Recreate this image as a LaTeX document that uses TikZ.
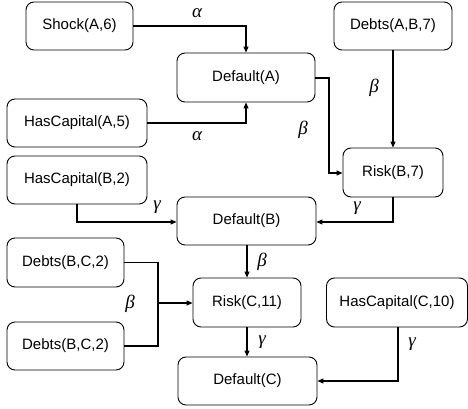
\documentclass[tikz,border=0pt]{standalone}
\usepackage{fontspec}
\setmainfont{Liberation Sans}
\newfontfamily\grk{Liberation Serif}
\usetikzlibrary{arrows.meta}
\begin{document}
\begin{tikzpicture}[x=1pt,y=-1pt,
  box/.style={draw,rounded corners=8pt,line width=0.9pt,font=\fontsize{15}{16}\selectfont},
  conn/.style={line width=1.1pt,-{Triangle[length=6pt,width=5pt]}},
  lbl/.style={font=\fontsize{19}{20}\selectfont\grk\itshape}]
\useasboundingbox (0,0) rectangle (468,409);
% boxes
\node[box,minimum width=107pt,minimum height=48pt] (shock) at (79.5,26) {Shock(A,6)};
\node[box,minimum width=138pt,minimum height=49pt] (defA) at (246,77.5) {Default(A)};
\node[box,minimum width=140pt,minimum height=48pt] (hcA) at (77,123) {HasCapital(A,5)};
\node[box,minimum width=140pt,minimum height=48pt] (hcB) at (77,180) {HasCapital(B,2)};
\node[box,minimum width=118pt,minimum height=48pt] (debAB) at (393,26) {Debts(A,B,7)};
\node[box,minimum width=100pt,minimum height=49pt] (riskB) at (393,172.5) {Risk(B,7)};
\node[box,minimum width=139pt,minimum height=48pt] (defB) at (246.5,221) {Default(B)};
\node[box,minimum width=117pt,minimum height=49pt] (debBC1) at (65.5,262.5) {Debts(B,C,2)};
\node[box,minimum width=117pt,minimum height=48pt] (debBC2) at (65.5,346) {Debts(B,C,2)};
\node[box,minimum width=108pt,minimum height=49pt] (riskC) at (247,302.5) {Risk(C,11)};
\node[box,minimum width=141pt,minimum height=49pt] (hcC) at (397,302.5) {HasCapital(C,10)};
\node[box,minimum width=139pt,minimum height=48pt] (defC) at (247.5,381) {Default(C)};
% coordinates
\coordinate (j1) at (246,26);
\coordinate (j2) at (246,123);
\coordinate (j3) at (329,78);
\coordinate (j4) at (329,173);
\coordinate (j5) at (77,222);
\coordinate (j6) at (393,222);
\coordinate (j7) at (158,262.5);
\coordinate (j8) at (158,346);
\coordinate (j9) at (158,303);
\coordinate (j10) at (398,381);
% connectors
\draw[conn] (shock.east) -- (j1) -- (defA.north);
\draw[conn] (hcA.east) -- (j2) -- (defA.south);
\draw[conn] (defA.east |- j3) -- (j3) -- (j4) -- (riskB.west |- j4);
\draw[conn] (debAB.south) -- (riskB.north);
\draw[conn] (hcB.south -| j5) -- (j5) -- (defB.west |- j5);
\draw[conn] (riskB.south) -- (j6) -- (defB.east |- j6);
\draw[conn] (defB.south -| riskC.north) -- (riskC.north);
\draw[line width=1.1pt] (debBC1.east) -- (j7) -- (j8) -- (debBC2.east);
\draw[conn] (j9) -- (riskC.west |- j9);
\draw[conn] (riskC.south) -- (defC.north -| riskC.south);
\draw[conn] (hcC.south -| j10) -- (j10) -- (defC.east |- j10);
% labels
\node[lbl] (a1) at (197,13) {α};
\node[lbl] (a2) at (197,136) {α};
\node[lbl] (b1) at (303,130) {β};
\node[lbl] (b2) at (374,88) {β};
\node[lbl] (g1) at (157,207) {γ};
\node[lbl] (g2) at (357,208) {γ};
\node[lbl] (b3) at (262,262) {β};
\node[lbl] (b4) at (130,304) {β};
\node[lbl] (g3) at (262,342) {γ};
\node[lbl] (g4) at (412,344) {γ};
\end{tikzpicture}
\end{document}
